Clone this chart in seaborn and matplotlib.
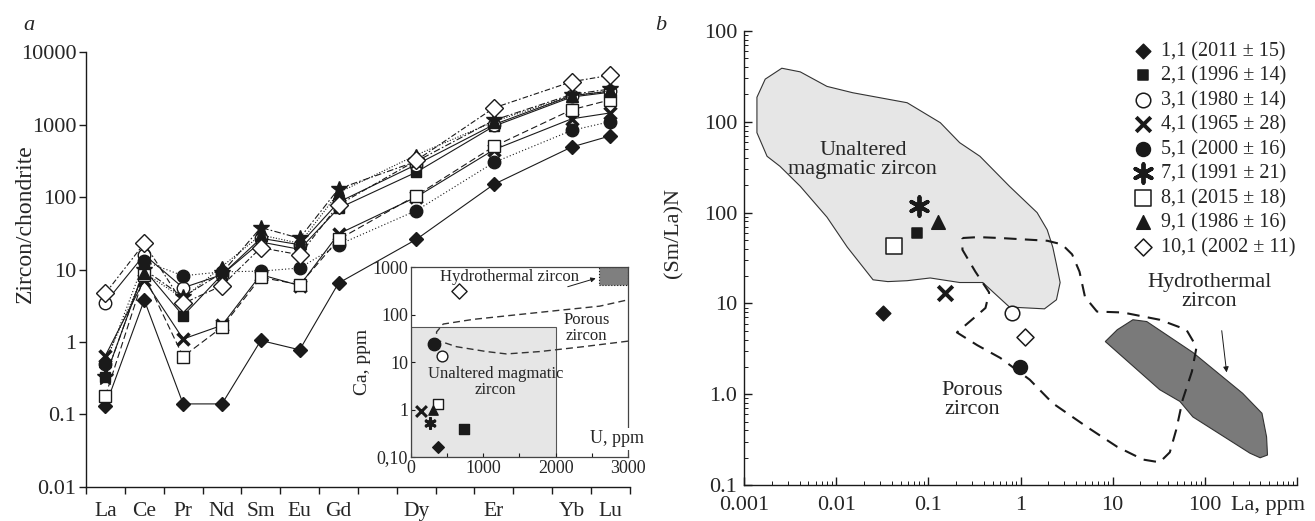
import numpy as np
import pandas as pd
import seaborn as sns
import matplotlib.pyplot as plt
from matplotlib.patches import Polygon, Rectangle
from matplotlib.ticker import FixedLocator, NullLocator, LogLocator, NullFormatter

sns.set_theme(style='white')
plt.rcParams['font.family'] = ['Liberation Serif', 'DejaVu Serif']

#%% data

ree_all = ['La', 'Ce', 'Pr', 'Nd', 'Sm', 'Eu', 'Gd', 'Tb', 'Dy', 'Ho', 'Er', 'Tm', 'Yb', 'Lu']
ree = ['La', 'Ce', 'Pr', 'Nd', 'Sm', 'Eu', 'Gd', 'Dy', 'Er', 'Yb', 'Lu']

samples = ['1,1', '2,1', '3,1', '4,1', '5,1', '7,1', '8,1', '9,1', '10,1']
ages = ['2011 ± 15', '1996 ± 14', '1980 ± 14', '1965 ± 28', '2000 ± 16',
        '1991 ± 21', '2015 ± 18', '1986 ± 16', '2002 ± 11']

# chondrite-normalised REE (panel a)
s1_1 = [0.13, 3.8, 0.14, 0.14, 1.05, 0.78, 6.5, 26, 150, 490, 700]
s2_1 = [0.33, 10, 2.3, 8.5, 24, 19, 70, 220, 950, 2400, 2800]
s3_1 = [3.5, 16, 5.6, 8.5, 27, 22, 85, 280, 1000, 2500, 2900]
s4_1 = [0.65, 7.2, 1.1, 1.7, 8.5, 6.0, 31, 100, 450, 1200, 1450]
s5_1 = [0.5, 13, 8.2, 9.3, 9.5, 10.5, 22, 65, 300, 830, 1100]
s7_1 = [0.33, 10, 4.2, 9, 38, 27, 130, 310, 1150, 2600, 3100]
s8_1 = [0.18, 8.3, 0.63, 1.6, 7.8, 6.2, 26, 105, 500, 1600, 2200]
s9_1 = [0.55, 9, 4.0, 11, 30, 23, 115, 380, 1100, 2500, 2900]
s10_1 = [4.7, 23, 3.4, 6.0, 20, 16, 78, 320, 1700, 3900, 4800]
spectra = [s1_1, s2_1, s3_1, s4_1, s5_1, s7_1, s8_1, s9_1, s10_1]

# inset: U vs Ca, ppm
u_ppm = [377, 736, 432, 133, 322, 262, 377, 308, 667]
ca_ppm = [0.16, 0.39, 13.5, 0.93, 24, 0.52, 1.3, 1.0, 310]

# panel b: La ppm vs (Sm/La)N
la_ppm = [0.032, 0.076, 0.81, 0.15, 0.98, 0.080, 0.042, 0.126, 1.12]
smla_n = [7.9, 60, 7.9, 13, 2.0, 117, 43, 78, 4.3]

# fields of panel b, log10 (La), log10 (Sm/La)N
unaltered_lx = [-2.59, -2.39, -2.10, -1.82, -1.23, -0.87, -0.66, -0.44, -0.12, 0.18, 0.29, 0.35,
                0.39, 0.43, 0.39, 0.26, -0.12, -0.41, -0.66, -0.98, -1.23, -1.44, -1.60, -1.88,
                -2.10, -2.39, -2.61, -2.75, -2.86, -2.86, -2.77]
unaltered_ly = [3.59, 3.55, 3.39, 3.32, 3.21, 2.99, 2.77, 2.62, 2.29, 2.00, 1.81, 1.62,
                1.43, 1.23, 1.04, 0.94, 0.96, 1.23, 1.23, 1.28, 1.25, 1.24, 1.26, 1.62,
                1.95, 2.29, 2.51, 2.62, 2.88, 3.27, 3.47]
porous_lx = [-0.63, -0.46, -0.22, 0.29, 0.45, 0.56, 0.64, 0.70, 0.83, 1.11, 1.51, 1.80, 1.91,
             1.86, 1.76, 1.69, 1.62, 1.51, 1.33, 1.05, 0.72, 0.35, 0.10, -0.22, -0.47, -0.69,
             -0.47, -0.38, -0.34, -0.49, -0.63, -0.63]
porous_ly = [1.72, 1.73, 1.72, 1.69, 1.65, 1.54, 1.35, 1.07, 0.91, 0.90, 0.82, 0.71, 0.52,
             0.25, -0.06, -0.39, -0.64, -0.75, -0.72, -0.58, -0.36, -0.10, 0.16, 0.40, 0.54, 0.68,
             0.87, 0.95, 1.12, 1.35, 1.59, 1.72]
hydro_lx = [0.92, 1.05, 1.22, 1.37, 1.87, 2.41, 2.62, 2.67, 2.68, 2.60, 2.49, 1.87, 1.73, 1.51]
hydro_ly = [0.58, 0.71, 0.82, 0.80, 0.46, 0.01, -0.21, -0.47, -0.67, -0.70, -0.65, -0.25, -0.08, 0.05]

# inset porous zone (U, Ca)
inset_por_u = [3000, 2379, 1781, 1320, 1044, 630, 354, 354, 446, 860, 1413, 2057, 2609, 3000]
inset_por_ca = [27.5, 21, 16.6, 14.8, 16.6, 21, 29, 43, 63, 79, 97, 123, 150, 204]

# marker styles
mk_a = ['D', 's', 'o', 'x', 'o', '*', 's', '^', 'D']
mk_b = ['D', 's', 'o', 'x', 'o', (6, 2, 0), 's', '^', 'D']
filled = [True, True, False, True, True, True, False, True, False]
lstyles = ['-', '-', '-', '-', (0, (1, 2)), (0, (6, 2, 1.5, 2)), (0, (6, 3)), (0, (1, 1.5)), (0, (5, 2, 1.5, 2))]
ms_a = [7, 7, 9, 9, 9, 12, 9, 8, 9]
sz_b = [55, 60, 110, 110, 100, 180, 120, 95, 75]
sz_i = [35, 55, 60, 60, 80, 50, 60, 45, 60]

df = pd.DataFrame([(s, el, v) for s, vals in zip(samples, spectra) for el, v in zip(ree, vals)],
                  columns=['sample', 'element', 'value'])
df['pos'] = df['element'].map(lambda e: ree_all.index(e) + 0.5)

#%% figure

fig = plt.figure(figsize=(13.15, 5.21), dpi=100)
ax1 = fig.add_axes([0.0654, 0.0653, 0.4136, 0.8347])
ax2 = fig.add_axes([0.5658, 0.0691, 0.4205, 0.8714])
axi = fig.add_axes([0.3125, 0.1228, 0.1651, 0.3647])

# ---- panel a
for i, s in enumerate(samples):
    d = df[df['sample'] == s]
    sns.lineplot(data=d, x='pos', y='value', ax=ax1, color='k', lw=0.8, linestyle=lstyles[i],
                 marker=mk_a[i], markersize=ms_a[i],
                 markerfacecolor='k' if filled[i] else 'white', markeredgecolor='k',
                 markeredgewidth=2.5 if mk_a[i] == 'x' else 1.0, legend=False)
ax1.set_yscale('log')
ax1.set_ylim(0.01, 10000)
ax1.set_xlim(0, 14)
ax1.set_yticks([0.01, 0.1, 1, 10, 100, 1000, 10000])
ax1.set_yticklabels(['0.01', '0.1', '1', '10', '100', '1000', '10000'])
ax1.yaxis.set_minor_locator(NullLocator())
ax1.xaxis.set_major_locator(FixedLocator(range(15)))
ax1.xaxis.set_major_formatter(NullFormatter())
ax1.set_xticks([i + 0.5 for i in range(14)], minor=True)
ax1.set_xticklabels([e if e in ree else '' for e in ree_all], minor=True)
ax1.tick_params(axis='x', which='major', direction='out', length=5, width=1, color='k', bottom=True)
ax1.tick_params(axis='x', which='minor', length=0, pad=11, labelsize=15.5)
ax1.tick_params(axis='y', which='major', direction='out', length=5, width=1, color='k', left=True,
                labelsize=16, pad=2)
for sp in ['top', 'right']:
    ax1.spines[sp].set_visible(False)
for sp in ['left', 'bottom']:
    ax1.spines[sp].set_color('k')
    ax1.spines[sp].set_linewidth(1.0)
ax1.set_xlabel('')
ax1.set_ylabel('Zircon/chondrite', fontsize=17)
ax1.yaxis.set_label_coords(-0.092, 0.605)
fig.text(0.0175, 0.952, 'a', fontsize=16, style='italic', va='center')

# ---- inset
axi.set_facecolor('white')
axi.add_patch(Rectangle((0, 0.1), 2000, 55 - 0.1, facecolor='#e6e6e6', edgecolor='#555555', lw=0.8, zorder=0))
axi.add_patch(Rectangle((2600, 420), 400, 580, facecolor='#7f7f7f', edgecolor='k', lw=0.8, ls=':', zorder=1))
axi.plot(inset_por_u, inset_por_ca, color='#333333', lw=1.0, ls=(0, (5, 3)), zorder=1)
for i, s in enumerate(samples):
    m = mk_b[i]
    sns.scatterplot(x=[u_ppm[i]], y=[ca_ppm[i]], ax=axi, marker=m, s=sz_i[i], color='k',
                    facecolor='k' if filled[i] else 'white', edgecolor='k',
                    linewidth=2.2 if m in ('x', (6, 2, 0)) else 1.0, zorder=3, legend=False)
axi.set_yscale('log')
axi.set_xlim(0, 3000)
axi.set_ylim(0.1, 1000)
axi.set_yticks([0.1, 1, 10, 100, 1000])
axi.set_yticklabels(['0,10', '1', '10', '100', '1000'])
axi.yaxis.set_minor_locator(NullLocator())
axi.set_xticks(range(0, 3001, 500))
axi.set_xticklabels(['0', '', '1000', '', '2000', '', '3000'])
axi.tick_params(axis='both', direction='in', length=3, width=0.8, color='k', labelsize=13, pad=2,
                left=True, bottom=True)
for sp in axi.spines.values():
    sp.set_color('#444444')
    sp.set_linewidth(0.9)
axi.set_xlabel('')
axi.set_ylabel('Ca, ppm', fontsize=14, labelpad=1)
axi.text(2850, 0.24, 'U, ppm', fontsize=13, ha='center', va='center', zorder=5,
         bbox=dict(facecolor='white', edgecolor='none', pad=1.5), clip_on=False)
axi.text(400, 615, 'Hydrothermal zircon', fontsize=12, ha='left', va='center', zorder=4)
axi.annotate('', xy=(2590, 600), xytext=(2130, 370),
             arrowprops=dict(arrowstyle='-|>', color='k', lw=0.7, mutation_scale=7))
axi.text(2430, 52, 'Porous\nzircon', fontsize=12, ha='center', va='center', linespacing=1.0)
axi.text(1170, 3.8, 'Unaltered magmatic\nzircon', fontsize=12, ha='center', va='center', linespacing=1.0)

# ---- panel b
ax2.add_patch(Polygon(np.column_stack([10 ** np.array(unaltered_lx), 10 ** np.array(unaltered_ly)]),
                      closed=True, facecolor='#e6e6e6', edgecolor='#333333', lw=0.8, zorder=0))
ax2.add_patch(Polygon(np.column_stack([10 ** np.array(hydro_lx), 10 ** np.array(hydro_ly)]),
                      closed=True, facecolor='#7a7a7a', edgecolor='#333333', lw=0.8, zorder=1))
ax2.plot(10 ** np.array(porous_lx), 10 ** np.array(porous_ly), color='k', lw=1.5,
         ls=(0, (6, 4)), zorder=2)
for i, s in enumerate(samples):
    m = mk_b[i]
    sns.scatterplot(x=[la_ppm[i]], y=[smla_n[i]], ax=ax2, marker=m, s=sz_b[i], color='k',
                    facecolor='k' if filled[i] else 'white', edgecolor='k',
                    linewidth=2.8 if m in ('x', (6, 2, 0)) else 1.1, zorder=3,
                    label=f'{s} ({ages[i]})')
ax2.set_xscale('log')
ax2.set_yscale('log')
ax2.set_xlim(0.001, 1000)
ax2.set_ylim(0.1, 10000)
ax2.set_xticks([0.001, 0.01, 0.1, 1, 10, 100, 1000])
ax2.set_xticklabels(['0.001', '0.01', '0.1', '1', '10', '100', ''])
ax2.set_yticks([0.1, 1, 10, 100, 1000, 10000])
ax2.set_yticklabels(['0.1', '1.0', '10', '100', '100', '100'])
ax2.xaxis.set_minor_locator(LogLocator(base=10, subs=np.arange(2, 10), numticks=20))
ax2.yaxis.set_minor_locator(LogLocator(base=10, subs=np.arange(2, 10), numticks=20))
ax2.xaxis.set_minor_formatter(NullFormatter())
ax2.yaxis.set_minor_formatter(NullFormatter())
ax2.tick_params(axis='both', which='major', direction='in', length=6, width=1, color='k',
                labelsize=16, left=True, bottom=True, pad=5)
ax2.tick_params(axis='x', which='major', pad=8)
ax2.tick_params(axis='both', which='minor', direction='in', length=3, width=0.7, color='k',
                left=True, bottom=True)
for sp in ['top', 'right']:
    ax2.spines[sp].set_visible(False)
for sp in ['left', 'bottom']:
    ax2.spines[sp].set_color('k')
    ax2.spines[sp].set_linewidth(1.0)
ax2.set_xlabel('')
ax2.set_ylabel('(Sm/La)N', fontsize=16)
ax2.yaxis.set_label_coords(-0.11, 0.555)
ax2.annotate('La, ppm', xy=(1, 0), xycoords='axes fraction', xytext=(6, -8),
             textcoords='offset points', ha='right', va='top', fontsize=16)
ax2.text(0.0195, 380, 'Unaltered\nmagmatic zircon', fontsize=16, ha='center', va='center', linespacing=1.0)
ax2.text(0.30, 0.87, 'Porous\nzircon', fontsize=16, ha='center', va='center', linespacing=1.0)
ax2.text(112, 13.3, 'Hydrothermal\nzircon', fontsize=16, ha='center', va='center', linespacing=1.0)
ax2.annotate('', xy=(10 ** 2.24, 10 ** 0.21), xytext=(10 ** 2.18, 10 ** 0.73),
             arrowprops=dict(arrowstyle='-|>', color='k', lw=0.7, mutation_scale=8))
ax2.legend(loc='upper left', bbox_to_anchor=(0.703, 0.976), frameon=False, fontsize=14.5,
           handlelength=1.0, handletextpad=0.42, labelspacing=0.26, borderaxespad=0, borderpad=0)
fig.text(0.4985, 0.952, 'b', fontsize=16, style='italic', va='center')

fig.savefig('out.png', dpi=100)
